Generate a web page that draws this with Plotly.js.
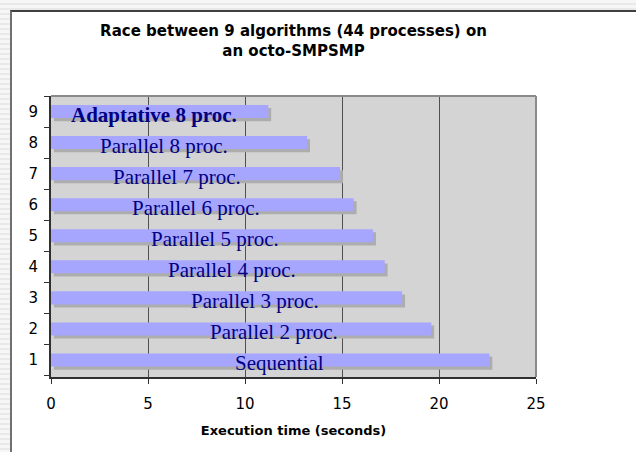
<!DOCTYPE html>
<html>
<head>
<meta charset="utf-8">
<script src="https://cdn.plot.ly/plotly-3.0.1.min.js"></script>
<style>
  html, body { margin: 0; padding: 0; }
  body {
    width: 636px; height: 452px; overflow: hidden; position: relative;
    background: repeating-linear-gradient(180deg, #f6f6f6 0px, #f6f6f6 3px, #e9e9e9 3px, #e9e9e9 5px);
  }
  #frame {
    position: absolute; left: 10px; top: 10px; width: 626px; height: 442px;
    background: #fff; border-left: 2px solid #707070; border-top: 2px solid #404040;
  }
  #chart { position: absolute; left: 0; top: 0; width: 624px; height: 440px; }
</style>
</head>
<body>
<div id="frame"><div id="chart"></div></div>
<script>
// race between algorithms, bottom to top
const categories = ['1', '2', '3', '4', '5', '6', '7', '8', '9'];
const labels = ['Sequential', 'Parallel 2 proc.', 'Parallel 3 proc.', 'Parallel 4 proc.',
  'Parallel 5 proc.', 'Parallel 6 proc.', 'Parallel 7 proc.', 'Parallel 8 proc.', '<b>Adaptative 8 proc.</b>'];
const times = [22.6, 19.6, 18.1, 17.2, 16.6, 15.6, 14.9, 13.2, 11.2];

// where each label sits along the x axis (staggered like the original)
const labelX = [11.8, 11.5, 10.5, 9.35, 8.45, 7.45, 6.5, 5.85, 5.3];

const barWidth = 0.42;

const shadow = {
  type: 'bar',
  orientation: 'h',
  y: categories,
  x: times,
  base: 0.15,
  width: barWidth,
  offset: -barWidth / 2 - 0.1,
  marker: { color: '#adadad', line: { width: 0 } },
  hoverinfo: 'skip',
  showlegend: false
};

const bars = {
  type: 'bar',
  orientation: 'h',
  y: categories,
  x: times,
  width: barWidth,
  offset: -barWidth / 2,
  marker: { color: '#a6a6ff', line: { width: 0 } },
  showlegend: false
};

// annotations on a category axis: y given as the category index
const annotations = labels.map((t, i) => ({
  x: labelX[i],
  y: i,
  xref: 'x',
  yref: 'y',
  text: t,
  showarrow: false,
  yshift: -3,
  font: { family: 'Liberation Serif, Times New Roman, serif', size: 21, color: '#000080' }
}));

const layout = {
  width: 624,
  height: 440,
  margin: { l: 39, r: 100, t: 84, b: 75 },
  paper_bgcolor: '#ffffff',
  plot_bgcolor: '#d4d4d4',
  barmode: 'overlay',
  font: { family: 'DejaVu Sans, Verdana, sans-serif', color: '#000' },
  title: {
    text: '<b>Race between 9 algorithms (44 processes) on<br>an octo-SMPSMP</b>',
    font: { family: 'DejaVu Sans, Verdana, sans-serif', size: 15, color: '#000' },
    xref: 'paper',
    x: 0.5,
    xanchor: 'center',
    yref: 'container',
    y: 0.945,
    yanchor: 'top'
  },
  xaxis: {
    range: [0, 25],
    tickvals: [0, 5, 10, 15, 20, 25],
    showgrid: true,
    gridcolor: '#505050',
    gridwidth: 1,
    zeroline: false,
    showline: true,
    linecolor: '#303030',
    linewidth: 2,
    ticks: 'outside',
    ticklen: 5,
    tickcolor: '#303030',
    ticklabelstandoff: 7,
    tickfont: { size: 15 },
    title: {
      text: '<b>Execution time (seconds)</b>',
      font: { size: 13 },
      standoff: 14
    },
    fixedrange: true
  },
  yaxis: {
    type: 'category',
    categoryorder: 'array',
    categoryarray: categories,
    tickson: 'boundaries',
    showgrid: false,
    zeroline: false,
    showline: true,
    linecolor: '#303030',
    linewidth: 2,
    ticks: 'outside',
    ticklen: 5,
    tickcolor: '#303030',
    ticklabelstandoff: 8,
    tickfont: { size: 15 },
    fixedrange: true
  },
  shapes: [
    { type: 'line', xref: 'paper', yref: 'paper', x0: 0, x1: 1, y0: 1, y1: 1, line: { color: '#8a8a8a', width: 2 } },
    { type: 'line', xref: 'paper', yref: 'paper', x0: 1, x1: 1, y0: 0, y1: 1, line: { color: '#8a8a8a', width: 2 } }
  ],
  annotations: annotations
};

Plotly.newPlot('chart', [shadow, bars], layout, { displayModeBar: false, staticPlot: true });
</script>
</body>
</html>
